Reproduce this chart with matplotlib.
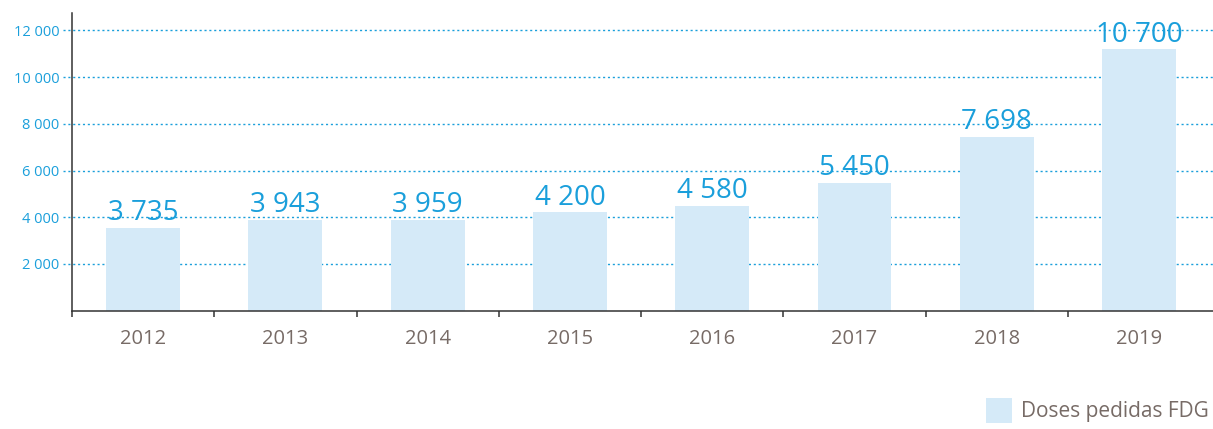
import matplotlib
matplotlib.use("Agg")
import matplotlib.pyplot as plt
import matplotlib.transforms as mtransforms
from matplotlib.ticker import FixedLocator

years = ["2012", "2013", "2014", "2015", "2016", "2017", "2018", "2019"]
bar_heights = [3550, 3880, 3880, 4205, 4475, 5475, 7445, 11200]
value_labels = ["3 735", "3 943", "3 959", "4 200", "4 580", "5 450", "7 698", "10 700"]
y_ticks = [2000, 4000, 6000, 8000, 10000, 12000]
y_tick_labels = ["2 000", "4 000", "6 000", "8 000", "10 000", "12 000"]
legend_label = "Doses pedidas FDG"

BLUE = "#1a9fdb"
BAR = "#d5eaf8"
GREY = "#776b66"
plt.rcParams["font.family"] = ["Open Sans", "DejaVu Sans"]

fig = plt.figure(figsize=(12.13, 4.29), dpi=100)
ax = fig.add_axes([0.0594, 0.2762, 0.9406, 0.6935])

x = range(len(years))
ax.bar(x, bar_heights, width=0.52, color=BAR, zorder=2, label=legend_label)
for xi, h, lab in zip(x, bar_heights, value_labels):
    ax.annotate(lab, (xi, h), xytext=(0, 5.5), textcoords="offset points",
                ha="center", va="baseline", fontsize=20, color=BLUE, zorder=3)

# dotted gridlines, extended a little left of the axis
trans = mtransforms.blended_transform_factory(ax.transAxes, ax.transData)
ax.hlines(y_ticks, -0.008, 1.0, transform=trans, colors=BLUE, linestyles=(0, (1.5, 2)),
          linewidth=1, zorder=1, clip_on=False)

ax.set_xlim(-0.5, 7.52)
ax.set_ylim(0, 12750)
ax.set_yticks(y_ticks)
ax.set_yticklabels(y_tick_labels)
ax.tick_params(axis="y", length=0, pad=9, labelsize=10.5, labelcolor=BLUE)

ax.set_xticks(list(x))
ax.set_xticklabels(years)
ax.xaxis.set_minor_locator(FixedLocator([i - 0.5 for i in range(len(years))]))
ax.tick_params(axis="x", which="major", length=0, pad=13, labelsize=14.5, labelcolor=GREY)
ax.tick_params(axis="x", which="minor", length=4, width=1.1, color="#333333")

for s in ["top", "right"]:
    ax.spines[s].set_visible(False)
for s in ["left", "bottom"]:
    ax.spines[s].set_color("#333333")
    ax.spines[s].set_linewidth(1.1)

fig.legend(loc="lower right", bbox_to_anchor=(1.007, -0.015), frameon=False, fontsize=15,
           labelcolor=GREY, handlelength=1.25, handleheight=1.45, handletextpad=0.45,
           borderaxespad=0.2)

fig.savefig("out.png", dpi=100)
